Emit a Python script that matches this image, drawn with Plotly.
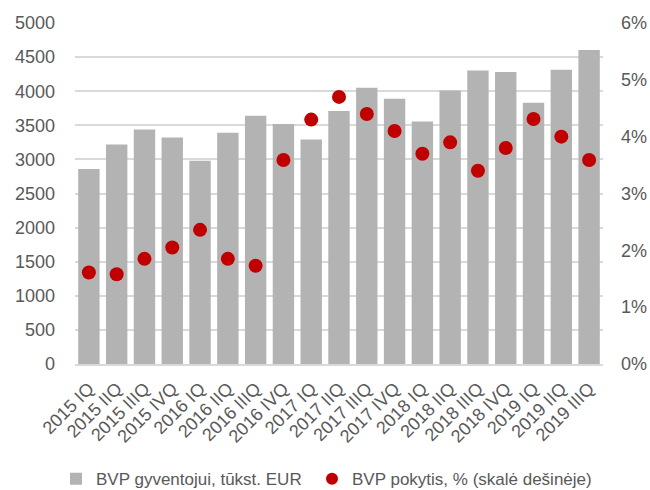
import plotly.graph_objects as go

categories = ["2015 IQ", "2015 IIQ", "2015 IIIQ", "2015 IVQ", "2016 IQ", "2016 IIQ", "2016 IIIQ",
              "2016 IVQ", "2017 IQ", "2017 IIQ", "2017 IIIQ", "2017 IVQ", "2018 IQ", "2018 IIQ",
              "2018 IIIQ", "2018 IVQ", "2019 IQ", "2019 IIQ", "2019 IIIQ"]
bvp_per_capita = [2860, 3220, 3440, 3320, 2980, 3390, 3640, 3520, 3290, 3710, 4050, 3890,
                  3555, 4010, 4305, 4280, 3830, 4315, 4605]
bvp_change_pct = [1.61, 1.58, 1.85, 2.05, 2.36, 1.85, 1.73, 3.59, 4.30, 4.70, 4.40, 4.10,
                  3.70, 3.90, 3.40, 3.80, 4.31, 4.00, 3.59]

left_ticks = list(range(0, 5001, 500))
right_ticks = [0, 1, 2, 3, 4, 5, 6]
right_labels = [f"{v}%" for v in right_ticks]

font_color = "#595959"
family = "Liberation Sans, Arial, sans-serif"
fnt = dict(family=family, size=18, color=font_color)
legend_font = dict(family=family, size=17, color=font_color)

fig = go.Figure()
fig.add_trace(go.Bar(
    x=categories, y=bvp_per_capita, name="BVP gyventojui, tūkst. EUR",
    marker=dict(color="#b3b3b3", line=dict(width=0)), legend="legend",
))
fig.add_trace(go.Scatter(
    x=categories, y=bvp_change_pct, name="BVP pokytis, % (skalė dešinėje)",
    mode="markers", yaxis="y2", legend="legend2",
    marker=dict(color="#c00000", size=14, symbol="circle"),
))

leg_common = dict(orientation="h", xref="container", yref="container", xanchor="left",
                  y=0.022, yanchor="middle", font=legend_font, itemwidth=30,
                  itemsizing="constant", bgcolor="rgba(0,0,0,0)")

fig.update_layout(
    width=650, height=490,
    margin=dict(l=75, r=47, t=23, b=126, autoexpand=False),
    paper_bgcolor="white", plot_bgcolor="white",
    font=fnt,
    bargap=0.23,
    showlegend=True,
    legend=dict(x=56 / 650, **leg_common),
    legend2=dict(x=312 / 650, **leg_common),
    xaxis=dict(type="category", range=[-0.5, len(categories) - 0.5], tickangle=-45, tickfont=fnt,
               showgrid=False, automargin=False, ticklabelstandoff=5,
               showline=True, linecolor="#d9d9d9", linewidth=2, ticks=""),
    yaxis=dict(range=[0, 5000], tickvals=left_ticks, tickfont=fnt, showgrid=True, automargin=False,
               gridcolor="#d9d9d9", gridwidth=1.5, zeroline=False, ticks="", ticklabelstandoff=19),
    yaxis2=dict(range=[0, 6], tickvals=right_ticks, ticktext=right_labels, overlaying="y",
                side="right", showgrid=False, zeroline=False, tickfont=fnt, ticks="",
                automargin=False, ticklabelstandoff=17),
)

fig.write_html("out.html", config={"displayModeBar": False},
               post_script="document.body.style.margin='0px';")
